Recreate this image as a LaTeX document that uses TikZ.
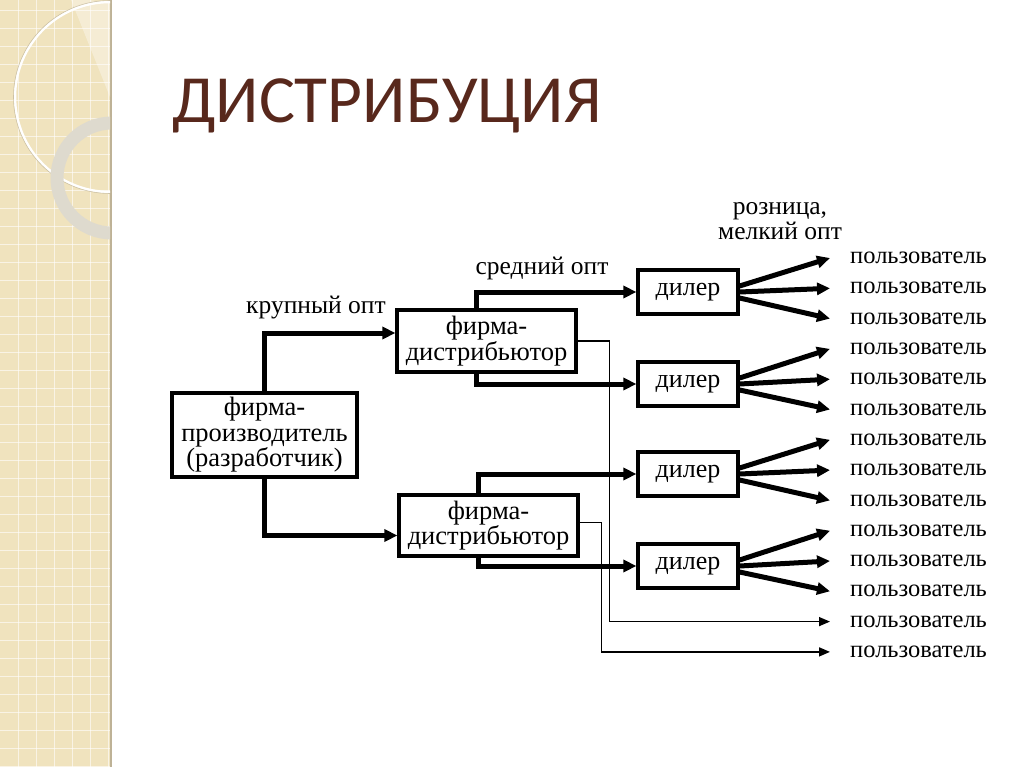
\documentclass[tikz,border=0pt]{standalone}
\usepackage{fontspec}
\setmainfont{Liberation Serif}
\newfontfamily\titlefont{Carlito}
\usetikzlibrary{arrows.meta,positioning}

\definecolor{stripbeige}{RGB}{240,227,190}
\definecolor{stripedge}{RGB}{190,178,150}
\definecolor{titlebrown}{RGB}{88,40,28}
\definecolor{ringgrey}{RGB}{222,218,206}

\tikzset{
  firmbox/.style={draw,line width=3.2pt,align=center,inner sep=0pt,
    font=\fontsize{26.5}{25.5}\selectfont},
  dealerbox/.style={draw,line width=3.2pt,minimum width=100pt,minimum height=44pt,
    inner sep=0pt,font=\fontsize{26}{26}\selectfont},
  userlabel/.style={anchor=west,inner sep=0pt,font=\fontsize{24.5}{24}\selectfont},
  flowlabel/.style={inner sep=0pt,align=center,font=\fontsize{25.5}{25}\selectfont},
  fatarrow/.style={line width=5pt,-{Triangle[length=13pt,width=12pt]}},
  thinarrow/.style={line width=1.5pt,-{Triangle[length=11pt,width=9pt]}}
}

\begin{document}
\begin{tikzpicture}[x=1pt,y=-1pt]
  \useasboundingbox (0,0) rectangle (1024,767);
  % left strip
  \fill[stripbeige] (0,0) rectangle (110,767);
  \foreach \x in {18,36,...,108} \draw[white,opacity=0.6,line width=0.8pt] (\x,0) -- (\x,767);
  \foreach \y in {10,28,...,767} \draw[white,opacity=0.6,line width=0.8pt] (0,\y) -- (110,\y);
  \draw[stripedge,line width=2pt] (111,0) -- (111,767);
  \begin{scope}
    \clip (0,0) rectangle (110,767);
    \fill[white,opacity=0.35] (110,97) -- (110,2) arc (90:200:95) -- cycle;
    \draw[white,line width=2.5pt] (110,97) circle (95);
    \draw[stripedge,opacity=0.7,line width=0.6pt] (110,97) circle (96.5);
    \draw[ringgrey,line width=13pt] (112,178) circle (55);
  \end{scope}
  % title
  \node[anchor=base west,inner sep=0pt,text=titlebrown,font=\titlefont\fontsize{67.5}{68}\selectfont]
    (title) at (172,123) {ДИСТРИБУЦИЯ};
  % firms
  \node[firmbox,minimum width=185pt,minimum height=84pt] (prod) at (264.5,435)
    {фирма-\\производитель\\(разработчик)};
  \node[firmbox,minimum width=179pt,minimum height=62pt] (dist1) at (486.5,341)
    {фирма-\\дистрибьютор};
  \node[firmbox,minimum width=179pt,minimum height=61pt] (dist2) at (488.5,525.5)
    {фирма-\\дистрибьютор};
  % dealers
  \node[dealerbox] (deal1) at (688,292) {дилер};
  \node[dealerbox] (deal2) at (688,384) {дилер};
  \node[dealerbox] (deal3) at (688,474) {дилер};
  \node[dealerbox] (deal4) at (688,566) {дилер};
  % users
  \foreach \i in {1,...,14}
    \node[userlabel] (user\i) at (850,{258+30.3*(\i-1)}) {пользователь};
  % flow labels
  \node[flowlabel] (bulk) at (316,308) {крупный опт};
  \node[flowlabel] (mid) at (542,268) {средний опт};
  \node[flowlabel] (retail) at (780,221) {розница,\\мелкий опт};
  % wholesale
  \draw[fatarrow] (prod.north) |- ([yshift=8pt]dist1.west);
  \draw[fatarrow] (prod.south) |- ([yshift=-10pt]dist2.west);
  \draw[fatarrow] ([xshift=-10pt]dist1.north) |- (deal1.west);
  \draw[fatarrow] ([xshift=-10pt]dist1.south) |- (deal2.west);
  \draw[fatarrow] ([xshift=-10pt]dist2.north) |- (deal3.west);
  \draw[fatarrow] ([xshift=-10pt]dist2.south) |- (deal4.west);
  % retail fans
  \foreach \d/\u in {1/1,2/4,3/7,4/10} {
    \pgfmathtruncatemacro{\ub}{\u+1}
    \pgfmathtruncatemacro{\uc}{\u+2}
    \draw[fatarrow] ([yshift=6pt]deal\d.east) -- ([xshift=-20pt]user\u.west);
    \draw[fatarrow] (deal\d.east) -- ([xshift=-20pt]user\ub.west);
    \draw[fatarrow] ([yshift=-6pt]deal\d.east) -- ([xshift=-20pt]user\uc.west);
  }
  % direct to users
  \draw[thinarrow] (dist1.east) -- ++(32,0) |- ([xshift=-20pt]user13.west);
  \draw[thinarrow] ([yshift=3pt]dist2.east) -- ++(22,0) |- ([xshift=-20pt]user14.west);
\end{tikzpicture}
\end{document}
